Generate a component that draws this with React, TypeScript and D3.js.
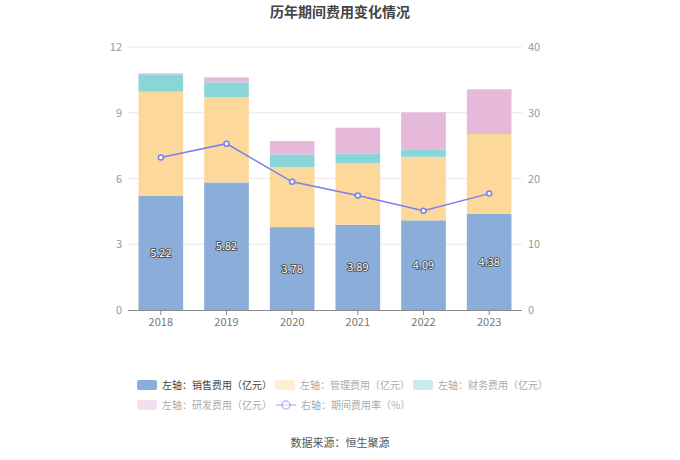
import { useEffect, useRef } from "react"
import * as d3 from "d3"

const years = ["2018", "2019", "2020", "2021", "2022", "2023"]
const sales = [5.22, 5.82, 3.78, 3.89, 4.09, 4.38]
const admin = [4.74, 3.88, 2.73, 2.82, 2.9, 3.65]
const finance = [0.79, 0.69, 0.59, 0.42, 0.34, 0.0]
const rnd = [0.05, 0.22, 0.61, 1.19, 1.69, 2.04]
const rate = [23.2, 25.3, 19.5, 17.4, 15.1, 17.7]
const leftTicks = [0, 3, 6, 9, 12]
const rightTicks = [0, 10, 20, 30, 40]

const seriesNames = ["左轴：销售费用（亿元）", "左轴：管理费用（亿元）", "左轴：财务费用（亿元）", "左轴：研发费用（亿元）"]
const lineName = "右轴：期间费用率（%）"
const colors = ["#8badd9", "#fdd89b", "#8ad5d8", "#e6b9da"]
const lineColor = "#7b80ee"
const font = "'Noto Sans CJK SC', 'Noto Sans', sans-serif"

export default function App() {
  const svgRef = useRef<SVGSVGElement>(null)

  useEffect(() => {
    if (!svgRef.current) return
    const svg = d3.select(svgRef.current)
    svg.selectAll("*").remove()

    const width = 680
    const margin = { top: 47, right: 158, bottom: 150, left: 128 }
    const innerWidth = width - margin.left - margin.right
    const bottom = 310

    const x = d3.scaleBand().domain(years).range([margin.left, margin.left + innerWidth]).paddingInner(0.32).paddingOuter(0.16)
    const y = d3.scaleLinear().domain([0, 12]).range([bottom, margin.top])
    const y2 = d3.scaleLinear().domain([0, 40]).range([bottom, margin.top])

    // title
    svg.append("text")
      .attr("x", 340).attr("y", 17)
      .attr("text-anchor", "middle")
      .attr("font-size", "14px").attr("font-weight", "bold")
      .attr("fill", "#444").attr("font-family", font)
      .text("历年期间费用变化情况")

    // grid
    svg.append("g").selectAll("line")
      .data(leftTicks.slice(1))
      .join("line")
      .attr("x1", margin.left).attr("x2", margin.left + innerWidth)
      .attr("y1", (d) => y(d)).attr("y2", (d) => y(d))
      .attr("stroke", "#e8e8ee").attr("stroke-width", 1)

    svg.append("g").selectAll("text")
      .data(leftTicks)
      .join("text")
      .attr("x", margin.left - 6).attr("y", (d) => y(d) + 4)
      .attr("text-anchor", "end")
      .attr("font-size", "11px").attr("fill", "#999").attr("font-family", font)
      .text((d) => d)

    svg.append("g").selectAll("text")
      .data(rightTicks)
      .join("text")
      .attr("x", margin.left + innerWidth + 6).attr("y", (d) => y2(d) + 4)
      .attr("text-anchor", "start")
      .attr("font-size", "11px").attr("fill", "#999").attr("font-family", font)
      .text((d) => d)

    // stacked bars
    const rows = years.map((yr, i) => ({ year: yr, s0: sales[i], s1: admin[i], s2: finance[i], s3: rnd[i] }))
    const stack = d3.stack<any>().keys(["s0", "s1", "s2", "s3"])(rows)

    svg.append("g").selectAll("g")
      .data(stack)
      .join("g")
      .attr("fill", (_, i) => colors[i])
      .selectAll("rect")
      .data((d) => d)
      .join("rect")
      .attr("x", (d) => x(d.data.year)!)
      .attr("width", x.bandwidth())
      .attr("y", (d) => y(d[1]))
      .attr("height", (d) => y(d[0]) - y(d[1]))

    // x axis
    svg.append("line")
      .attr("x1", margin.left).attr("x2", margin.left + innerWidth)
      .attr("y1", bottom + 0.5).attr("y2", bottom + 0.5)
      .attr("stroke", "#888")
    svg.append("g").selectAll("line")
      .data(years)
      .join("line")
      .attr("x1", (d) => x(d)! + x.bandwidth() / 2).attr("x2", (d) => x(d)! + x.bandwidth() / 2)
      .attr("y1", bottom).attr("y2", bottom + 5)
      .attr("stroke", "#888")
    svg.append("g").selectAll("text")
      .data(years)
      .join("text")
      .attr("x", (d) => x(d)! + x.bandwidth() / 2).attr("y", bottom + 16)
      .attr("text-anchor", "middle")
      .attr("font-size", "11px").attr("fill", "#777").attr("font-family", font)
      .text((d) => d)

    // value labels on sales bars
    svg.append("g").selectAll("text")
      .data(sales)
      .join("text")
      .attr("x", (_, i) => x(years[i])! + x.bandwidth() / 2)
      .attr("y", (d) => (y(0) + y(d)) / 2 + 4)
      .attr("text-anchor", "middle")
      .attr("font-size", "11px").attr("font-family", font)
      .attr("fill", "white").attr("stroke", "#444").attr("stroke-width", 1.6)
      .attr("paint-order", "stroke")
      .text((d) => d.toFixed(2))

    // line
    const line = d3.line<number>()
      .x((_, i) => x(years[i])! + x.bandwidth() / 2)
      .y((d) => y2(d))
    svg.append("path")
      .datum(rate)
      .attr("d", line)
      .attr("fill", "none").attr("stroke", lineColor).attr("stroke-width", 1.5)
    svg.append("g").selectAll("circle")
      .data(rate)
      .join("circle")
      .attr("cx", (_, i) => x(years[i])! + x.bandwidth() / 2)
      .attr("cy", (d) => y2(d))
      .attr("r", 2.5)
      .attr("fill", "white").attr("stroke", lineColor).attr("stroke-width", 1.5)

    // legend
    const legendItems = [
      { name: seriesNames[0], color: colors[0], x: 137, y: 385, active: true, type: "rect" },
      { name: seriesNames[1], color: colors[1], x: 275, y: 385, active: false, type: "rect" },
      { name: seriesNames[2], color: colors[2], x: 413, y: 385, active: false, type: "rect" },
      { name: seriesNames[3], color: colors[3], x: 137, y: 405, active: false, type: "rect" },
      { name: lineName, color: lineColor, x: 276, y: 405, active: false, type: "line" },
    ]
    const legend = svg.append("g")
    legendItems.forEach((d) => {
      const row = legend.append("g").attr("transform", `translate(${d.x}, ${d.y})`)
      if (d.type === "rect") {
        row.append("rect")
          .attr("x", 0).attr("y", -5).attr("width", 20).attr("height", 10).attr("rx", 2)
          .attr("fill", d.color).attr("opacity", d.active ? 1 : 0.45)
      } else {
        row.append("line").attr("x1", 0).attr("x2", 20).attr("y1", 0).attr("y2", 0)
          .attr("stroke", d.color).attr("stroke-width", 1.5).attr("opacity", 0.5)
        row.append("circle").attr("cx", 10).attr("cy", 0).attr("r", 4)
          .attr("fill", "white").attr("stroke", d.color).attr("stroke-width", 1.5).attr("opacity", 0.5)
      }
      row.append("text")
        .attr("x", 25).attr("y", 4)
        .attr("font-size", "10px").attr("font-family", font)
        .attr("fill", d.active ? "#444" : "#aaa")
        .text(d.name)
    })

    // source
    svg.append("text")
      .attr("x", 340).attr("y", 447)
      .attr("text-anchor", "middle")
      .attr("font-size", "11px").attr("fill", "#555").attr("font-family", font)
      .text("数据来源：恒生聚源")
  }, [])

  return (
    <div style={{ position: "absolute", left: 0, top: 0 }}>
      <svg ref={svgRef} width={680} height={460} style={{ display: "block", background: "white" }} />
    </div>
  )
}
